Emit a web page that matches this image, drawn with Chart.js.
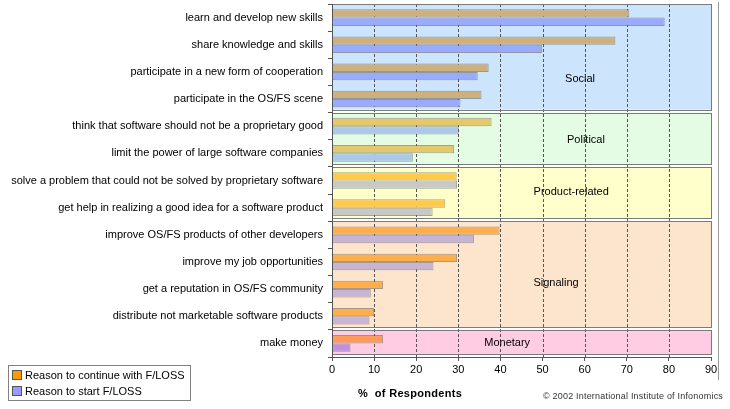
<!DOCTYPE html>
<html>
<head>
<meta charset="utf-8">
<script src="https://cdn.jsdelivr.net/npm/chart.js@4"></script>
<style>
  body { margin: 0; background: #fff; font-family: Arial, "Liberation Sans", sans-serif; }
  #wrap { position: relative; width: 730px; height: 409px; }
  #legend { position: absolute; left: 8px; top: 365px; width: 181px; height: 34px; border: 1px solid #808080; font-size: 11px; color: #000; }
  #legend div { position: absolute; left: 3px; height: 13px; line-height: 13px; white-space: nowrap; }
  #legend span { display: inline-block; width: 8px; height: 8px; border: 1px solid #555; margin-right: 3px; vertical-align: -1px; }
  #xtitle { position: absolute; left: 358px; top: 387px; font-size: 11px; font-weight: bold; letter-spacing: 0.3px; white-space: nowrap; }
  #copy { position: absolute; left: 543px; top: 391px; font-size: 9px; color: #333; letter-spacing: 0.2px; white-space: nowrap; }
</style>
</head>
<body>
<div id="wrap">
  <canvas id="chart" width="730" height="409"></canvas>
  <div id="legend">
    <div style="top:3px"><span style="background:#ff9900"></span>Reason to continue with F/LOSS</div>
    <div style="top:19px"><span style="background:#9999ff"></span>Reason to start F/LOSS</div>
  </div>
  <div id="xtitle">%&nbsp; of Respondents</div>
  <div id="copy">© 2002 International Institute of Infonomics</div>
</div>
<script>
const reasons = [
  'learn and develop new skills',
  'share knowledge and skills',
  'participate in a new form of cooperation',
  'participate in the OS/FS scene',
  'think that software should not be a proprietary good',
  'limit the power of large software companies',
  'solve a problem that could not be solved by proprietary software',
  'get help in realizing a good idea for a software product',
  'improve OS/FS products of other developers',
  'improve my job opportunities',
  'get a reputation in OS/FS community',
  'distribute not marketable software products',
  'make money'
];
const continueValues = [70.6, 67.3, 37.2, 35.5, 37.9, 29.0, 29.6, 26.9, 39.8, 29.7, 12.1, 10.0, 12.1];
const startValues = [79.0, 49.9, 34.6, 30.5, 30.1, 19.2, 29.7, 23.9, 33.7, 24.1, 9.2, 8.9, 4.4];
const xTicks = [0, 10, 20, 30, 40, 50, 60, 70, 80, 90];

// groups: first row, last row, label
const groupNames = ['Social', 'Political', 'Product-related', 'Signaling', 'Monetary'];
const groupFirst = [0, 4, 6, 8, 12];
const groupLast = [3, 5, 7, 11, 12];
const groupLabelX = [58.9, 60.3, 56.8, 53.2, 41.6];
const groupLabelRow = [2.27, 4.52, 6.44, 9.77, 11.98];

// colours per group
const groupBg = ['#cce4fc', '#e4fce4', '#ffffcc', '#fde4cc', '#ffcce4'];
const groupContinue = ['#cdb07c', '#e6c86c', '#ffc94c', '#ffae4c', '#ff9c5c'];
const groupStart = ['#99aaff', '#abc8e8', '#c8c8c8', '#c8b4d4', '#c090e0'];

function groupOf(i) {
  return groupFirst.findIndex((f, g) => i >= f && i <= groupLast[g]);
}

const boxesPlugin = {
  id: 'boxes',
  beforeDatasetsDraw(chart) {
    const { ctx, chartArea, scales } = chart;
    const y = scales.y, x = scales.x;
    const band = (y.bottom - y.top) / reasons.length;
    ctx.save();
    groupNames.forEach((name, g) => {
      const top = y.getPixelForValue(groupFirst[g]) - band / 2;
      const bottom = y.getPixelForValue(groupLast[g]) + band / 2 - 3;
      ctx.fillStyle = groupBg[g];
      ctx.fillRect(chartArea.left, top, chartArea.right - chartArea.left, bottom - top);
    });
    // vertical dashed gridlines
    ctx.strokeStyle = '#555';
    ctx.lineWidth = 1;
    ctx.setLineDash([3, 2]);
    xTicks.slice(1, -1).forEach(v => {
      const px = Math.round(x.getPixelForValue(v)) + 0.5;
      ctx.beginPath();
      ctx.moveTo(px, chartArea.top);
      ctx.lineTo(px, chartArea.bottom);
      ctx.stroke();
    });
    ctx.setLineDash([]);
    ctx.strokeStyle = '#7a7a7a';
    groupNames.forEach((name, g) => {
      const top = Math.round(y.getPixelForValue(groupFirst[g]) - band / 2) + 0.5;
      const bottom = Math.round(y.getPixelForValue(groupLast[g]) + band / 2 - 3) + 0.5;
      ctx.strokeRect(chartArea.left + 0.5, top, Math.round(chartArea.right - chartArea.left), bottom - top);
    });
    ctx.restore();
  },
  afterDatasetsDraw(chart) {
    const { ctx, scales } = chart;
    ctx.save();
    ctx.fillStyle = '#000';
    ctx.font = '11px Arial, "Liberation Sans", sans-serif';
    ctx.textAlign = 'center';
    ctx.textBaseline = 'middle';
    groupNames.forEach((name, g) => {
      ctx.fillText(name, scales.x.getPixelForValue(groupLabelX[g]), scales.y.getPixelForValue(groupLabelRow[g]));
    });
    // left axis line
    ctx.strokeStyle = '#555';
    ctx.beginPath();
    ctx.moveTo(chart.chartArea.left + 0.5, chart.chartArea.top);
    ctx.lineTo(chart.chartArea.left + 0.5, chart.chartArea.bottom);
    ctx.stroke();
    // right frame line
    ctx.strokeStyle = '#999';
    ctx.beginPath();
    ctx.moveTo(718.5, 2);
    ctx.lineTo(718.5, 380);
    ctx.stroke();
    ctx.restore();
  }
};

new Chart(document.getElementById('chart').getContext('2d'), {
  type: 'bar',
  data: {
    labels: reasons,
    datasets: [{
      label: 'Reason to continue with F/LOSS',
      data: continueValues,
      backgroundColor: reasons.map((r, i) => groupContinue[groupOf(i)]),
      borderColor: 'rgba(90, 90, 90, 0.55)',
      borderWidth: 1,
      borderSkipped: false,
      categoryPercentage: 0.613,
      barPercentage: 1
    }, {
      label: 'Reason to start F/LOSS',
      data: startValues,
      backgroundColor: reasons.map((r, i) => groupStart[groupOf(i)]),
      borderColor: 'rgba(90, 90, 90, 0.55)',
      borderWidth: 1,
      borderSkipped: false,
      categoryPercentage: 0.613,
      barPercentage: 1
    }]
  },
  options: {
    indexAxis: 'y',
    responsive: false,
    animation: false,
    layout: { padding: { left: 0, right: 19, top: 4, bottom: 0 } },
    plugins: {
      legend: { display: false },
      tooltip: { enabled: false }
    },
    scales: {
      x: {
        min: 0,
        max: 90,
        afterFit: (axis) => { axis.height = 52; },
        afterBuildTicks: (axis) => { axis.ticks = xTicks.map(v => ({ value: v })); },
        grid: { drawOnChartArea: false, color: '#555', tickLength: 4 },
        border: { color: '#555' },
        ticks: {
          color: '#000',
          padding: 2,
          font: { family: 'Arial, "Liberation Sans", sans-serif', size: 11 }
        }
      },
      y: {
        afterFit: (axis) => { axis.width = 332; axis.paddingTop = 0; axis.paddingBottom = 0; },
        grid: { drawOnChartArea: false, offset: true, color: '#555', tickLength: 4 },
        border: { color: '#555' },
        ticks: {
          color: '#000',
          padding: 5,
          autoSkip: false,
          font: { family: 'Arial, "Liberation Sans", sans-serif', size: 11 }
        }
      }
    }
  },
  plugins: [boxesPlugin]
});
</script>
</body>
</html>
